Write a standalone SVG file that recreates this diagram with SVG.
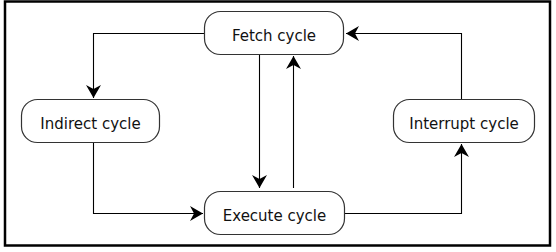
<svg xmlns="http://www.w3.org/2000/svg" width="556" height="252" viewBox="0 0 556 252">
<style>
.node rect{fill:#fff;stroke:#333;stroke-width:1.2}
.node text{font-family:"DejaVu Sans",Verdana,sans-serif;font-size:15px;fill:#111;text-anchor:middle}
.conn path{fill:none;stroke:#000;stroke-width:1.1;marker-end:url(#arr)}
</style>
<defs>
<marker id="arr" markerUnits="userSpaceOnUse" markerWidth="18" markerHeight="18" viewBox="-15 -9 18 18" refX="0" refY="0" orient="auto">
<path d="M0,0 L-13,-7.5 L-9,0 L-13,7.5 Z" fill="#000"/>
</marker>
</defs>
<rect x="5" y="1.5" width="545" height="244" fill="#fff" stroke="#000" stroke-width="2.5"/>
<g class="conn">
<path d="M204,33.5 H93.5 V98"/>
<path d="M259.5,54 V188"/>
<path d="M293.5,188 V56"/>
<path d="M344,213.5 H461.5 V144"/>
<path d="M461.5,99 V33.5 H346"/>
<path d="M93.5,142.5 V213.5 H203"/>
</g>
<g id="fetch" class="node"><rect x="204.5" y="11.5" width="139" height="43" rx="16"/><text x="274" y="40.5">Fetch cycle</text></g>
<g id="indirect" class="node"><rect x="21.5" y="99.5" width="138" height="43" rx="16"/><text x="90.5" y="128.5">Indirect cycle</text></g>
<g id="interrupt" class="node"><rect x="393.5" y="99.5" width="141" height="43" rx="16"/><text x="464" y="128.5">Interrupt cycle</text></g>
<g id="execute" class="node"><rect x="204.5" y="191.5" width="140" height="43" rx="16"/><text x="274.5" y="220.5">Execute cycle</text></g>
</svg>
